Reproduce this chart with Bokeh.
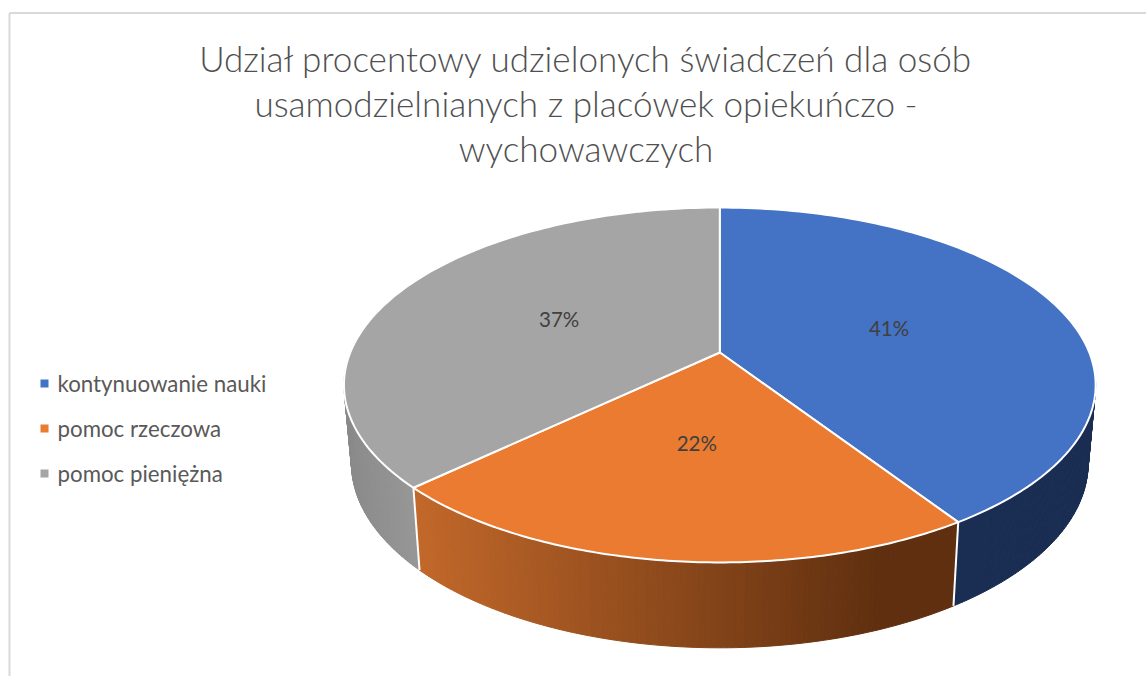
import math
from bokeh.plotting import figure
from bokeh.models import Range1d
from bokeh.core.properties import value
from bokeh.embed import file_html
from bokeh.resources import INLINE

# --- data ---
categories = ["kontynuowanie nauki", "pomoc rzeczowa", "pomoc pieniężna"]
shares = [40.8, 22.1, 37.1]
share_labels = ["41%", "22%", "37%"]
title_lines = ["Udział procentowy udzielonych świadczeń dla osób",
               "usamodzielnianych z placówek opiekuńczo -",
               "wychowawczych"]
top_colors = ["#4472C4", "#EB7B31", "#A5A5A5"]

# --- projection of the tilted disc ---
CX, CY = 719.3, 352.0
A, B, K = 369.5, 171.5, 0.183
SX, D0, DY = 0.98, 77.0, 0.04

def top_pt(t, r=1.0):
    u, v = r * math.sin(t), r * math.cos(t)
    w = 1 + K * v
    return CX + A * u / w, CY - B * v / w

def bottom_pt(t):
    x, y = top_pt(t)
    return CX + (x - CX) * SX, y + D0 + DY * (y - CY)

def lerp_hex(c1, c2, f):
    f = max(0.0, min(1.0, f))
    a = [int(c1[i:i+2], 16) for i in (1, 3, 5)]
    b = [int(c2[i:i+2], 16) for i in (1, 3, 5)]
    return "#%02x%02x%02x" % tuple(round(p + (q - p) * f) for p, q in zip(a, b))

W, H = 1146, 676
p = figure(width=W, height=H, output_backend="svg", toolbar_location=None,
           x_range=Range1d(0, W), y_range=Range1d(H, 0),
           min_border=0, outline_line_color=None, background_fill_color="white")
p.axis.visible = False
p.grid.visible = False

# chart frame
p.line([9, 9], [12.5, H], line_color="#d9d9d9", line_width=2)
p.line([9, W], [12.5, 12.5], line_color="#d9d9d9", line_width=2)

total = sum(shares)
edges = [0.0]
for s in shares:
    edges.append(edges[-1] + s / total * 2 * math.pi)

def wall(t0, t1, colfun):
    n = max(2, int(abs(t1 - t0) / math.radians(0.75)))
    xs, ys, cs = [], [], []
    for i in range(n):
        a = t0 + (t1 - t0) * i / n
        b = t0 + (t1 - t0) * (i + 1) / n
        x0, y0 = top_pt(a); x1, y1 = top_pt(b)
        x2, y2 = bottom_pt(b); x3, y3 = bottom_pt(a)
        xs.append([x0, x1, x2, x3]); ys.append([y0, y1, y2, y3])
        cs.append(colfun((x0 + x1) / 2))
    p.patches(xs, ys, fill_color=cs, line_color=cs, line_width=1)

# walls: grey (left), blue (right), orange (front)
xl, _ = top_pt(edges[2])
wall(edges[2], math.radians(285), lambda x: lerp_hex("#979797", "#8a8a8a", (xl - x) / (xl - 344)))
wall(math.radians(97), edges[1], lambda x: "#1A2D52")
wall(edges[1], edges[2], lambda x: lerp_hex("#C2682A", "#5F2F0F", (x - xl) / (880 - xl)))

# separators on the wall
for e in (edges[1], edges[2]):
    a, b = top_pt(e), bottom_pt(e)
    p.line([a[0], b[0]], [a[1], b[1]], line_color="white", line_width=2)

# top faces
for i, c in enumerate(top_colors):
    n = 120
    ts = [edges[i] + (edges[i+1] - edges[i]) * j / n for j in range(n + 1)]
    pts = [top_pt(t) for t in ts]
    xs = [CX] + [q[0] for q in pts]
    ys = [CY] + [q[1] for q in pts]
    p.patch(xs, ys, fill_color=c, line_color="white", line_width=2, line_join="round")

# share labels
for i, lab in enumerate(share_labels):
    x, y = top_pt((edges[i] + edges[i+1]) / 2, 0.49)
    p.text([x], [y - 1], text=[lab], text_font=value("Lato"), text_font_size="20.5px",
           text_color="#404040", text_align="center", text_baseline="middle")

# title
for ty, line in zip([57, 102, 147], title_lines):
    p.text([585.5], [ty], text=[line], text_font=value("Lato Light"), text_font_size="35.1px",
           text_color="#505050", text_align="center", text_baseline="middle")

# legend
for ly, c, name in zip([383, 428, 473], top_colors, categories):
    p.scatter([44], [ly], marker="square", size=8, fill_color=c, line_color=None)
    p.text([57], [ly], text=[name], text_font=value("Lato"), text_font_size="22.3px",
           text_color="#595959", text_align="left", text_baseline="middle")

open("out.html", "w").write(file_html(p, INLINE))
